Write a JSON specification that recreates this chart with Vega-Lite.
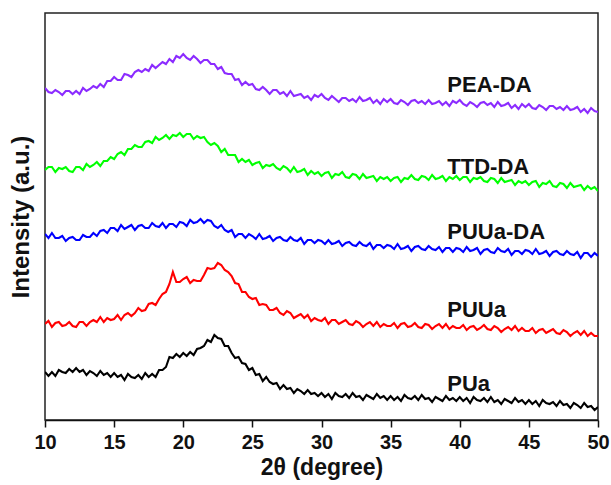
{
  "$schema": "https://vega.github.io/schema/vega-lite/v6.json",
  "width": 553,
  "height": 407,
  "autosize": {"type": "none"},
  "padding": {"left": 45, "top": 13, "right": 13, "bottom": 65},
  "background": "white",
  "config": {
    "view": {"stroke": "#222", "strokeWidth": 1.5},
    "font": "Liberation Sans"
  },
  "datasets": {
    "xrd": [
      {"x":10,"PUa":46,"PUUa":94,"PUUaDA":184,"TTDDA":248,"PEADA":330},
      {"x":10.25,"PUa":42,"PUUa":97,"PUUaDA":180,"TTDDA":251,"PEADA":326},
      {"x":10.5,"PUa":46,"PUUa":91,"PUUaDA":185,"TTDDA":251,"PEADA":325},
      {"x":10.75,"PUa":42,"PUUa":95,"PUUaDA":180,"TTDDA":246,"PEADA":328},
      {"x":11,"PUa":48,"PUUa":96,"PUUaDA":180,"TTDDA":250,"PEADA":326},
      {"x":11.25,"PUa":46,"PUUa":92,"PUUaDA":182,"TTDDA":249,"PEADA":323},
      {"x":11.5,"PUa":45,"PUUa":93,"PUUaDA":177,"TTDDA":251,"PEADA":327},
      {"x":11.75,"PUa":49,"PUUa":96,"PUUaDA":180,"TTDDA":247,"PEADA":327},
      {"x":12,"PUa":46,"PUUa":92,"PUUaDA":181,"TTDDA":246,"PEADA":324},
      {"x":12.25,"PUa":50,"PUUa":91,"PUUaDA":178,"TTDDA":251,"PEADA":327},
      {"x":12.5,"PUa":46,"PUUa":96,"PUUaDA":178,"TTDDA":251,"PEADA":324},
      {"x":12.75,"PUa":48,"PUUa":96,"PUUaDA":183,"TTDDA":248,"PEADA":330},
      {"x":13,"PUa":43,"PUUa":92,"PUUaDA":181,"TTDDA":254,"PEADA":327},
      {"x":13.25,"PUa":47,"PUUa":96,"PUUaDA":181,"TTDDA":251,"PEADA":329},
      {"x":13.5,"PUa":45,"PUUa":98,"PUUaDA":185,"TTDDA":253,"PEADA":332},
      {"x":13.75,"PUa":42,"PUUa":96,"PUUaDA":182,"TTDDA":256,"PEADA":330},
      {"x":14,"PUa":47,"PUUa":101,"PUUaDA":187,"TTDDA":252,"PEADA":334},
      {"x":14.25,"PUa":43,"PUUa":96,"PUUaDA":188,"TTDDA":257,"PEADA":331},
      {"x":14.5,"PUa":45,"PUUa":100,"PUUaDA":185,"TTDDA":257,"PEADA":337},
      {"x":14.75,"PUa":41,"PUUa":98,"PUUaDA":190,"TTDDA":261,"PEADA":337},
      {"x":15,"PUa":45,"PUUa":99,"PUUaDA":190,"TTDDA":259,"PEADA":341},
      {"x":15.25,"PUa":41,"PUUa":103,"PUUaDA":187,"TTDDA":264,"PEADA":338},
      {"x":15.5,"PUa":43,"PUUa":98,"PUUaDA":193,"TTDDA":266,"PEADA":338},
      {"x":15.75,"PUa":38,"PUUa":103,"PUUaDA":189,"TTDDA":263,"PEADA":344},
      {"x":16,"PUa":44,"PUUa":105,"PUUaDA":191,"TTDDA":269,"PEADA":343},
      {"x":16.25,"PUa":41,"PUUa":102,"PUUaDA":193,"TTDDA":269,"PEADA":341},
      {"x":16.5,"PUa":40,"PUUa":105,"PUUaDA":188,"TTDDA":273,"PEADA":346},
      {"x":16.75,"PUa":43,"PUUa":110,"PUUaDA":192,"TTDDA":271,"PEADA":348},
      {"x":17,"PUa":39,"PUUa":107,"PUUaDA":193,"TTDDA":271,"PEADA":346},
      {"x":17.25,"PUa":45,"PUUa":108,"PUUaDA":190,"TTDDA":276,"PEADA":349},
      {"x":17.5,"PUa":41,"PUUa":114,"PUUaDA":190,"TTDDA":277,"PEADA":347},
      {"x":17.75,"PUa":44,"PUUa":115,"PUUaDA":195,"TTDDA":275,"PEADA":353},
      {"x":18,"PUa":41,"PUUa":113,"PUUaDA":192,"TTDDA":281,"PEADA":350},
      {"x":18.25,"PUa":48,"PUUa":119,"PUUaDA":191,"TTDDA":278,"PEADA":353},
      {"x":18.5,"PUa":48,"PUUa":124,"PUUaDA":195,"TTDDA":280,"PEADA":356},
      {"x":18.75,"PUa":51,"PUUa":126,"PUUaDA":190,"TTDDA":283,"PEADA":354},
      {"x":19,"PUa":61,"PUUa":134,"PUUaDA":194,"TTDDA":279,"PEADA":359},
      {"x":19.25,"PUa":60,"PUUa":146,"PUUaDA":194,"TTDDA":283,"PEADA":356},
      {"x":19.5,"PUa":64,"PUUa":136,"PUUaDA":191,"TTDDA":282,"PEADA":362},
      {"x":19.75,"PUa":61,"PUUa":136,"PUUaDA":196,"TTDDA":285,"PEADA":360},
      {"x":20,"PUa":65,"PUUa":139,"PUUaDA":195,"TTDDA":281,"PEADA":364},
      {"x":20.25,"PUa":62,"PUUa":141,"PUUaDA":192,"TTDDA":284,"PEADA":360},
      {"x":20.5,"PUa":66,"PUUa":135,"PUUaDA":198,"TTDDA":284,"PEADA":358},
      {"x":20.75,"PUa":63,"PUUa":138,"PUUaDA":195,"TTDDA":279,"PEADA":362},
      {"x":21,"PUa":69,"PUUa":137,"PUUaDA":196,"TTDDA":282,"PEADA":359},
      {"x":21.25,"PUa":70,"PUUa":137,"PUUaDA":199,"TTDDA":280,"PEADA":355},
      {"x":21.5,"PUa":72,"PUUa":143,"PUUaDA":195,"TTDDA":281,"PEADA":358},
      {"x":21.75,"PUa":78,"PUUa":150,"PUUaDA":198,"TTDDA":276,"PEADA":358},
      {"x":22,"PUa":76,"PUUa":149,"PUUaDA":197,"TTDDA":273,"PEADA":354},
      {"x":22.25,"PUa":83,"PUUa":150,"PUUaDA":192,"TTDDA":275,"PEADA":354},
      {"x":22.5,"PUa":80,"PUUa":155,"PUUaDA":190,"TTDDA":272,"PEADA":349},
      {"x":22.75,"PUa":79,"PUUa":153,"PUUaDA":193,"TTDDA":266,"PEADA":351},
      {"x":23,"PUa":72,"PUUa":148,"PUUaDA":188,"TTDDA":269,"PEADA":345},
      {"x":23.25,"PUa":72,"PUUa":146,"PUUaDA":186,"TTDDA":263,"PEADA":344},
      {"x":23.5,"PUa":65,"PUUa":142,"PUUaDA":188,"TTDDA":263,"PEADA":344},
      {"x":23.75,"PUa":60,"PUUa":135,"PUUaDA":181,"TTDDA":263,"PEADA":338},
      {"x":24,"PUa":61,"PUUa":134,"PUUaDA":184,"TTDDA":256,"PEADA":339},
      {"x":24.25,"PUa":55,"PUUa":126,"PUUaDA":184,"TTDDA":259,"PEADA":333},
      {"x":24.5,"PUa":54,"PUUa":126,"PUUaDA":180,"TTDDA":256,"PEADA":336},
      {"x":24.75,"PUa":48,"PUUa":121,"PUUaDA":184,"TTDDA":258,"PEADA":333},
      {"x":25,"PUa":50,"PUUa":119,"PUUaDA":182,"TTDDA":253,"PEADA":334},
      {"x":25.25,"PUa":43,"PUUa":120,"PUUaDA":179,"TTDDA":255,"PEADA":329},
      {"x":25.5,"PUa":44,"PUUa":113,"PUUaDA":184,"TTDDA":256,"PEADA":328},
      {"x":25.75,"PUa":37,"PUUa":114,"PUUaDA":179,"TTDDA":250,"PEADA":331},
      {"x":26,"PUa":41,"PUUa":113,"PUUaDA":180,"TTDDA":253,"PEADA":328},
      {"x":26.25,"PUa":36,"PUUa":108,"PUUaDA":182,"TTDDA":252,"PEADA":324},
      {"x":26.5,"PUa":34,"PUUa":108,"PUUaDA":177,"TTDDA":254,"PEADA":328},
      {"x":26.75,"PUa":35,"PUUa":110,"PUUaDA":180,"TTDDA":250,"PEADA":328},
      {"x":27,"PUa":29,"PUUa":105,"PUUaDA":181,"TTDDA":248,"PEADA":324},
      {"x":27.25,"PUa":33,"PUUa":103,"PUUaDA":178,"TTDDA":252,"PEADA":326},
      {"x":27.5,"PUa":29,"PUUa":107,"PUUaDA":177,"TTDDA":250,"PEADA":322},
      {"x":27.75,"PUa":30,"PUUa":105,"PUUaDA":181,"TTDDA":246,"PEADA":327},
      {"x":28,"PUa":25,"PUUa":100,"PUUaDA":178,"TTDDA":251,"PEADA":322},
      {"x":28.25,"PUa":29,"PUUa":102,"PUUaDA":177,"TTDDA":246,"PEADA":323},
      {"x":28.5,"PUa":27,"PUUa":104,"PUUaDA":180,"TTDDA":247,"PEADA":324},
      {"x":28.75,"PUa":24,"PUUa":100,"PUUaDA":174,"TTDDA":249,"PEADA":320},
      {"x":29,"PUa":28,"PUUa":103,"PUUaDA":178,"TTDDA":243,"PEADA":322},
      {"x":29.25,"PUa":24,"PUUa":97,"PUUaDA":178,"TTDDA":247,"PEADA":318},
      {"x":29.5,"PUa":25,"PUUa":100,"PUUaDA":175,"TTDDA":244,"PEADA":323},
      {"x":29.75,"PUa":22,"PUUa":98,"PUUaDA":178,"TTDDA":246,"PEADA":321},
      {"x":30,"PUa":25,"PUUa":97,"PUUaDA":177,"TTDDA":242,"PEADA":324},
      {"x":30.25,"PUa":21,"PUUa":100,"PUUaDA":174,"TTDDA":245,"PEADA":320},
      {"x":30.5,"PUa":24,"PUUa":94,"PUUaDA":178,"TTDDA":246,"PEADA":318},
      {"x":30.75,"PUa":19,"PUUa":98,"PUUaDA":174,"TTDDA":240,"PEADA":322},
      {"x":31,"PUa":25,"PUUa":98,"PUUaDA":175,"TTDDA":244,"PEADA":319},
      {"x":31.25,"PUa":22,"PUUa":94,"PUUaDA":177,"TTDDA":243,"PEADA":316},
      {"x":31.5,"PUa":21,"PUUa":96,"PUUaDA":172,"TTDDA":246,"PEADA":320},
      {"x":31.75,"PUa":24,"PUUa":98,"PUUaDA":175,"TTDDA":241,"PEADA":320},
      {"x":32,"PUa":20,"PUUa":94,"PUUaDA":176,"TTDDA":240,"PEADA":317},
      {"x":32.25,"PUa":25,"PUUa":93,"PUUaDA":173,"TTDDA":244,"PEADA":319},
      {"x":32.5,"PUa":21,"PUUa":97,"PUUaDA":172,"TTDDA":243,"PEADA":316},
      {"x":32.75,"PUa":22,"PUUa":95,"PUUaDA":176,"TTDDA":239,"PEADA":321},
      {"x":33,"PUa":18,"PUUa":91,"PUUaDA":173,"TTDDA":244,"PEADA":317},
      {"x":33.25,"PUa":23,"PUUa":94,"PUUaDA":172,"TTDDA":240,"PEADA":318},
      {"x":33.5,"PUa":21,"PUUa":96,"PUUaDA":175,"TTDDA":241,"PEADA":320},
      {"x":33.75,"PUa":19,"PUUa":92,"PUUaDA":169,"TTDDA":242,"PEADA":315},
      {"x":34,"PUa":24,"PUUa":96,"PUUaDA":173,"TTDDA":237,"PEADA":318},
      {"x":34.25,"PUa":20,"PUUa":91,"PUUaDA":173,"TTDDA":241,"PEADA":314},
      {"x":34.5,"PUa":22,"PUUa":94,"PUUaDA":170,"TTDDA":239,"PEADA":319},
      {"x":34.75,"PUa":18,"PUUa":92,"PUUaDA":173,"TTDDA":241,"PEADA":316},
      {"x":35,"PUa":22,"PUUa":92,"PUUaDA":172,"TTDDA":237,"PEADA":319},
      {"x":35.25,"PUa":18,"PUUa":95,"PUUaDA":169,"TTDDA":240,"PEADA":315},
      {"x":35.5,"PUa":21,"PUUa":90,"PUUaDA":174,"TTDDA":241,"PEADA":314},
      {"x":35.75,"PUa":17,"PUUa":94,"PUUaDA":169,"TTDDA":236,"PEADA":318},
      {"x":36,"PUa":23,"PUUa":95,"PUUaDA":170,"TTDDA":240,"PEADA":316},
      {"x":36.25,"PUa":20,"PUUa":91,"PUUaDA":172,"TTDDA":239,"PEADA":313},
      {"x":36.5,"PUa":19,"PUUa":92,"PUUaDA":167,"TTDDA":243,"PEADA":317},
      {"x":36.75,"PUa":22,"PUUa":95,"PUUaDA":171,"TTDDA":239,"PEADA":318},
      {"x":37,"PUa":18,"PUUa":91,"PUUaDA":172,"TTDDA":238,"PEADA":315},
      {"x":37.25,"PUa":23,"PUUa":90,"PUUaDA":169,"TTDDA":242,"PEADA":317},
      {"x":37.5,"PUa":19,"PUUa":94,"PUUaDA":168,"TTDDA":241,"PEADA":314},
      {"x":37.75,"PUa":20,"PUUa":93,"PUUaDA":172,"TTDDA":238,"PEADA":318},
      {"x":38,"PUa":16,"PUUa":89,"PUUaDA":169,"TTDDA":243,"PEADA":314},
      {"x":38.25,"PUa":21,"PUUa":92,"PUUaDA":168,"TTDDA":239,"PEADA":315},
      {"x":38.5,"PUa":19,"PUUa":94,"PUUaDA":171,"TTDDA":240,"PEADA":317},
      {"x":38.75,"PUa":17,"PUUa":90,"PUUaDA":166,"TTDDA":242,"PEADA":313},
      {"x":39,"PUa":22,"PUUa":94,"PUUaDA":170,"TTDDA":237,"PEADA":316},
      {"x":39.25,"PUa":18,"PUUa":89,"PUUaDA":170,"TTDDA":241,"PEADA":312},
      {"x":39.5,"PUa":20,"PUUa":92,"PUUaDA":166,"TTDDA":239,"PEADA":317},
      {"x":39.75,"PUa":17,"PUUa":90,"PUUaDA":170,"TTDDA":242,"PEADA":315},
      {"x":40,"PUa":21,"PUUa":90,"PUUaDA":169,"TTDDA":238,"PEADA":318},
      {"x":40.25,"PUa":17,"PUUa":93,"PUUaDA":166,"TTDDA":241,"PEADA":314},
      {"x":40.5,"PUa":20,"PUUa":88,"PUUaDA":171,"TTDDA":241,"PEADA":312},
      {"x":40.75,"PUa":15,"PUUa":91,"PUUaDA":167,"TTDDA":236,"PEADA":316},
      {"x":41,"PUa":21,"PUUa":92,"PUUaDA":168,"TTDDA":240,"PEADA":314},
      {"x":41.25,"PUa":18,"PUUa":88,"PUUaDA":170,"TTDDA":239,"PEADA":311},
      {"x":41.5,"PUa":17,"PUUa":90,"PUUaDA":164,"TTDDA":241,"PEADA":315},
      {"x":41.75,"PUa":20,"PUUa":93,"PUUaDA":168,"TTDDA":237,"PEADA":316},
      {"x":42,"PUa":16,"PUUa":89,"PUUaDA":169,"TTDDA":236,"PEADA":313},
      {"x":42.25,"PUa":21,"PUUa":88,"PUUaDA":166,"TTDDA":240,"PEADA":315},
      {"x":42.5,"PUa":16,"PUUa":92,"PUUaDA":165,"TTDDA":239,"PEADA":311},
      {"x":42.75,"PUa":18,"PUUa":90,"PUUaDA":170,"TTDDA":235,"PEADA":316},
      {"x":43,"PUa":14,"PUUa":86,"PUUaDA":167,"TTDDA":240,"PEADA":312},
      {"x":43.25,"PUa":19,"PUUa":89,"PUUaDA":166,"TTDDA":236,"PEADA":313},
      {"x":43.5,"PUa":17,"PUUa":91,"PUUaDA":169,"TTDDA":237,"PEADA":315},
      {"x":43.75,"PUa":15,"PUUa":88,"PUUaDA":163,"TTDDA":238,"PEADA":310},
      {"x":44,"PUa":20,"PUUa":92,"PUUaDA":167,"TTDDA":233,"PEADA":313},
      {"x":44.25,"PUa":16,"PUUa":87,"PUUaDA":167,"TTDDA":237,"PEADA":309},
      {"x":44.5,"PUa":18,"PUUa":90,"PUUaDA":164,"TTDDA":235,"PEADA":314},
      {"x":44.75,"PUa":14,"PUUa":87,"PUUaDA":168,"TTDDA":237,"PEADA":311},
      {"x":45,"PUa":18,"PUUa":87,"PUUaDA":167,"TTDDA":233,"PEADA":314},
      {"x":45.25,"PUa":14,"PUUa":90,"PUUaDA":164,"TTDDA":236,"PEADA":310},
      {"x":45.5,"PUa":17,"PUUa":85,"PUUaDA":169,"TTDDA":237,"PEADA":309},
      {"x":45.75,"PUa":12,"PUUa":88,"PUUaDA":164,"TTDDA":231,"PEADA":313},
      {"x":46,"PUa":18,"PUUa":89,"PUUaDA":165,"TTDDA":235,"PEADA":311},
      {"x":46.25,"PUa":15,"PUUa":85,"PUUaDA":167,"TTDDA":234,"PEADA":308},
      {"x":46.5,"PUa":14,"PUUa":87,"PUUaDA":162,"TTDDA":237,"PEADA":312},
      {"x":46.75,"PUa":16,"PUUa":89,"PUUaDA":166,"TTDDA":232,"PEADA":312},
      {"x":47,"PUa":12,"PUUa":85,"PUUaDA":167,"TTDDA":231,"PEADA":309},
      {"x":47.25,"PUa":17,"PUUa":84,"PUUaDA":164,"TTDDA":235,"PEADA":311},
      {"x":47.5,"PUa":13,"PUUa":88,"PUUaDA":163,"TTDDA":234,"PEADA":308},
      {"x":47.75,"PUa":14,"PUUa":86,"PUUaDA":167,"TTDDA":230,"PEADA":312},
      {"x":48,"PUa":10,"PUUa":82,"PUUaDA":164,"TTDDA":235,"PEADA":308},
      {"x":48.25,"PUa":15,"PUUa":85,"PUUaDA":163,"TTDDA":231,"PEADA":309},
      {"x":48.5,"PUa":13,"PUUa":87,"PUUaDA":166,"TTDDA":232,"PEADA":311},
      {"x":48.75,"PUa":10,"PUUa":83,"PUUaDA":160,"TTDDA":233,"PEADA":306},
      {"x":49,"PUa":15,"PUUa":87,"PUUaDA":165,"TTDDA":228,"PEADA":309},
      {"x":49.25,"PUa":11,"PUUa":82,"PUUaDA":165,"TTDDA":232,"PEADA":305},
      {"x":49.5,"PUa":12,"PUUa":85,"PUUaDA":161,"TTDDA":229,"PEADA":310},
      {"x":49.75,"PUa":8,"PUUa":82,"PUUaDA":165,"TTDDA":231,"PEADA":307},
      {"x":50,"PUa":11,"PUUa":82,"PUUaDA":162,"TTDDA":227,"PEADA":306}
    ],
    "labels": [
      {"label":"PEA-DA","x":39.1,"y":333},
      {"label":"TTD-DA","x":39.1,"y":251},
      {"label":"PUUa-DA","x":39.1,"y":186},
      {"label":"PUUa","x":39.1,"y":108},
      {"label":"PUa","x":39.1,"y":34}
    ]
  },
  "layer": [
    {
      "data": {"name": "xrd"},
      "transform": [
        {"fold": ["PUa","PUUa","PUUaDA","TTDDA","PEADA"], "as": ["series","intensity"]}
      ],
      "mark": {"type": "line", "strokeWidth": 2.1, "clip": true},
      "encoding": {
        "x": {
          "field": "x", "type": "quantitative",
          "scale": {"domain": [10, 50], "nice": false, "zero": false},
          "axis": {
            "title": "2θ (degree)",
            "values": [10,12.5,15,17.5,20,22.5,25,27.5,30,32.5,35,37.5,40,42.5,45,47.5,50],
            "labelExpr": "datum.value % 5 === 0 ? datum.label : ''",
            "tickSize": {"expr": "datum.value % 5 === 0 ? 7 : 4"},
            "tickColor": "#111",
            "tickWidth": 1.5,
            "domainColor": "#111",
            "domainWidth": 1.5,
            "grid": false,
            "labelFont": "Liberation Sans",
            "labelFontWeight": "bold",
            "labelFontSize": 20,
            "labelColor": "#111",
            "labelPadding": 5,
            "labelFlush": false,
            "labelOverlap": false,
            "titleFont": "Liberation Sans",
            "titleFontWeight": "bold",
            "titleFontSize": 23,
            "titleColor": "#111",
            "titlePadding": 4
          }
        },
        "y": {
          "field": "intensity", "type": "quantitative",
          "scale": {"domain": [-2, 405], "nice": false, "zero": false},
          "axis": {
            "title": "Intensity (a.u.)",
            "labels": false,
            "ticks": false,
            "grid": false,
            "domain": false,
            "titleFont": "Liberation Sans",
            "titleFontWeight": "bold",
            "titleFontSize": 24,
            "titleColor": "#111",
            "titlePadding": 12
          }
        },
        "color": {
          "field": "series", "type": "nominal",
          "scale": {
            "domain": ["PUa","PUUa","PUUaDA","TTDDA","PEADA"],
            "range": ["#000000","#ff0000","#0000ff","#00ff00","#8b2bff"]
          },
          "legend": null
        },
        "detail": {"field": "series"}
      }
    },
    {
      "data": {"name": "labels"},
      "mark": {"type": "text", "align": "left", "baseline": "middle", "font": "Liberation Sans", "fontWeight": "bold", "fontSize": 22, "color": "#111"},
      "encoding": {
        "x": {"field": "x", "type": "quantitative"},
        "y": {"field": "y", "type": "quantitative"},
        "text": {"field": "label"}
      }
    }
  ]
}
